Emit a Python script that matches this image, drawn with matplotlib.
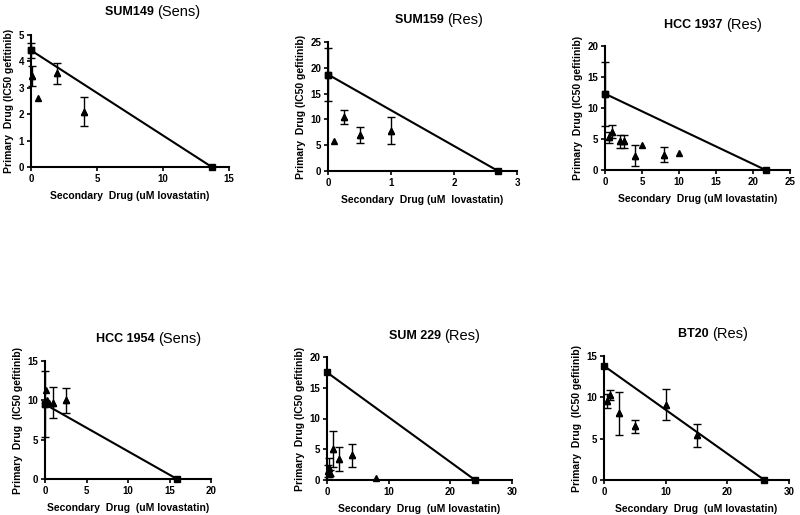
import matplotlib
matplotlib.use("Agg")
import matplotlib.pyplot as plt

plt.rcParams.update(
    {
        "font.family": ["Liberation Sans", "DejaVu Sans"],
        "font.size": 7,
        "font.weight": "bold",
        "axes.spines.top": False,
        "axes.spines.right": False,
        "axes.linewidth": 1.5,
        "xtick.major.width": 1.2,
        "ytick.major.width": 1.2,
        "xtick.major.size": 3,
        "ytick.major.size": 3,
        "xtick.labelsize": 7,
        "ytick.labelsize": 7,
    }
)

# cell line names and sensitivity
names = ["SUM149", "SUM159", "HCC 1937", "HCC 1954", "SUM 229", "BT20"]
status = ["(Sens)", "(Res)", "(Res)", "(Sens)", "(Res)", "(Res)"]

# single-drug IC50s (line endpoints)
primary_ic50 = [4.42, 18.7, 12.3, 9.5, 17.5, 13.8]
primary_err = [0.28, 5.1, 5.2, 4.2, 0.0, 0.0]
secondary_ic50 = [13.7, 2.7, 21.7, 15.9, 24.0, 26.0]

# combination points
combo_x = [
    [0.1, 0.5, 2, 4],
    [0.1, 0.25, 0.5, 1],
    [0.5, 1, 2, 2.5, 4, 5, 8, 10],
    [0.1, 0.25, 0.5, 1, 2.5],
    [0.1, 0.25, 0.5, 1, 2, 4, 8],
    [0.5, 1, 2.5, 5, 10, 15],
]
combo_y = [
    [3.45, 2.6, 3.55, 2.1],
    [5.8, 10.5, 7.0, 7.8],
    [5.3, 6.2, 4.6, 4.6, 2.3, 4.0, 2.5, 2.7],
    [11.3, 10.0, 9.6, 9.7, 10.0],
    [1.5, 2.0, 1.2, 5.0, 3.4, 4.0, 0.4],
    [9.5, 10.3, 8.1, 6.5, 9.1, 5.4],
]
combo_err = [
    [0.38, 0, 0.4, 0.55],
    [0, 1.3, 1.5, 2.6],
    [0.9, 1.0, 1.0, 1.0, 1.7, 0, 1.2, 0],
    [0, 0, 0, 2.0, 1.6],
    [1.0, 1.5, 0.5, 2.9, 2.0, 1.9, 0],
    [0.85, 0.6, 2.6, 0.8, 1.9, 1.35],
]

x_max = [15, 3, 25, 20, 30, 30]
x_step = [5, 1, 5, 5, 10, 10]
y_max = [5, 25, 20, 15, 20, 15]
y_step = [1, 5, 5, 5, 5, 5]

x_labels = [
    "Secondary  Drug (uM lovastatin)",
    "Secondary  Drug (uM  lovastatin)",
    "Secondary  Drug (uM lovastatin)",
    "Secondary  Drug  (uM lovastatin)",
    "Secondary  Drug  (uM lovastatin)",
    "Secondary  Drug  (uM lovastatin)",
]
y_labels = [
    "Primary  Drug (IC50 gefitinib)",
    "Primary  Drug (IC50 gefitinib)",
    "Primary  Drug (IC50 gefitinib)",
    "Primary  Drug  (IC50 gefitinib)",
    "Primary  Drug (IC50 gefitinib)",
    "Primary  Drug  (IC50 gefitinib)",
]

# layout in pixels (left, top, right, bottom) and title split point
W, H = 800, 515
boxes = [
    (31, 35, 229, 167),
    (328, 42, 517, 171),
    (605, 46, 790, 170),
    (45, 361, 211, 479),
    (327, 357, 512, 480),
    (604, 356, 789, 480),
]
title_pos = [(157, 12), (447, 20), (726, 25), (158, 339), (444, 336), (712, 334)]

ERR_STYLE = dict(color="black", capsize=3, elinewidth=1.0, capthick=1.0,
                 clip_on=False, zorder=3, linestyle="none")


def draw_points(ax, xs, ys, errs, marker, ms):
    with_err = [(x, y, e) for x, y, e in zip(xs, ys, errs) if e > 0]
    if with_err:
        ex, ey, ee = zip(*with_err)
        ax.errorbar(ex, ey, yerr=ee, fmt=marker, ms=ms, **ERR_STYLE)
    ax.plot(xs, ys, marker, color="black", ms=ms, clip_on=False, zorder=4)


fig = plt.figure(figsize=(W / 100, H / 100), dpi=100)

for i in range(6):
    l, t, r, b = boxes[i]
    ax = fig.add_axes([l / W, 1 - b / H, (r - l) / W, (b - t) / H])
    ax.plot([0, secondary_ic50[i]], [primary_ic50[i], 0], color="black", lw=1.5, zorder=2)
    draw_points(ax, [0, secondary_ic50[i]], [primary_ic50[i], 0],
                [primary_err[i], 0], "s", 4.5)
    draw_points(ax, combo_x[i], combo_y[i], combo_err[i], "^", 4)
    ax.set_xlim(0, x_max[i])
    ax.set_ylim(0, y_max[i])
    ax.set_xticks(range(0, x_max[i] + 1, x_step[i]))
    ax.set_yticks(range(0, y_max[i] + 1, y_step[i]))
    ax.set_xlabel(x_labels[i], fontsize=7.5, fontweight="bold", labelpad=5)
    ax.set_ylabel(y_labels[i], fontsize=7.5, fontweight="bold", labelpad=3)
    ax.tick_params(pad=2)

    tx, ty = title_pos[i]
    fig.text(tx / W, 1 - ty / H, names[i] + " ", ha="right", va="center",
             fontsize=9, fontweight="bold")
    fig.text(tx / W, 1 - ty / H, status[i], ha="left", va="center",
             fontsize=10.5, fontweight="normal")

fig.savefig("out.png", dpi=100)
